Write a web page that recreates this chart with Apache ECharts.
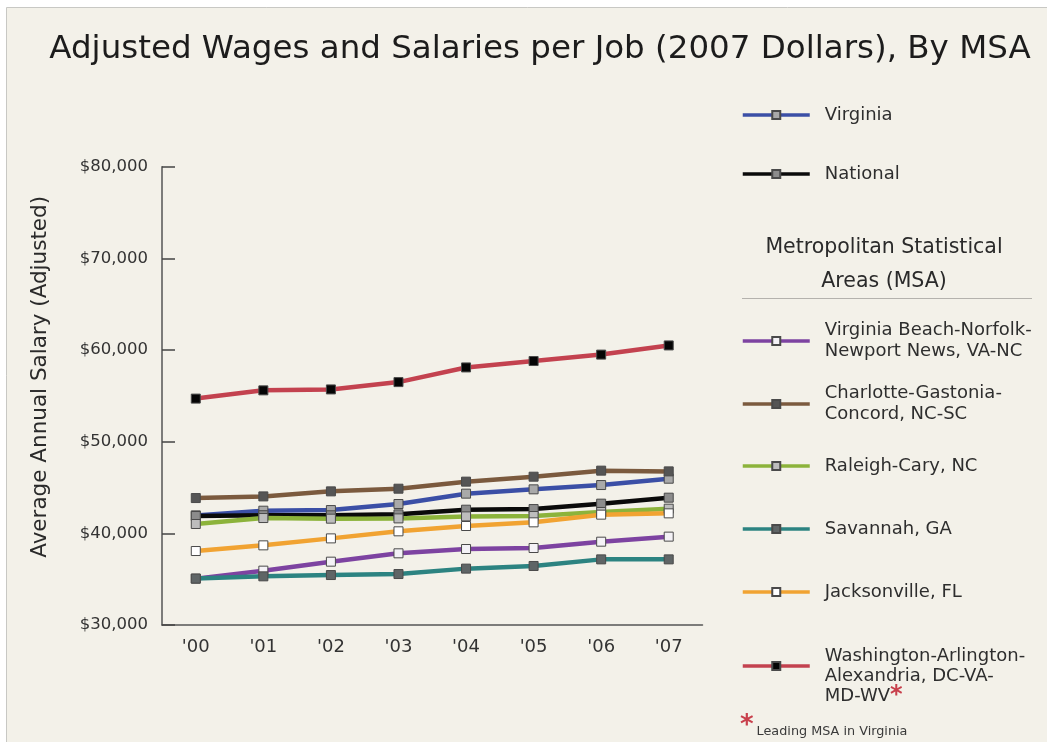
<!DOCTYPE html>
<html>
<head>
<meta charset="utf-8">
<title>Adjusted Wages and Salaries per Job</title>
<script src="https://cdn.jsdelivr.net/npm/echarts@6/dist/echarts.min.js"></script>
<style>
  html, body { margin: 0; padding: 0; background: #ffffff; }
  #chart { width: 1047px; height: 742px; }
</style>
</head>
<body>
<div id="chart"></div>
<script>
// Years on the x axis
const years = ["'00", "'01", "'02", "'03", "'04", "'05", "'06", "'07"];

// Average annual salary per job, 2007 dollars
const virginia      = [41960, 42470, 42540, 43200, 44330, 44800, 45270, 45960];
const national      = [41890, 41980, 41970, 42070, 42580, 42650, 43240, 43890];
const vaBeach       = [35060, 35930, 36910, 37820, 38290, 38400, 39090, 39640];
const charlotte     = [43850, 44030, 44580, 44870, 45640, 46180, 46840, 46760];
const raleigh       = [41020, 41670, 41600, 41630, 41850, 41890, 42330, 42690];
const savannah      = [35060, 35310, 35450, 35560, 36150, 36440, 37160, 37160];
const jacksonville  = [38070, 38690, 39450, 40220, 40800, 41200, 42040, 42180];
const washington    = [54700, 55600, 55700, 56500, 58100, 58800, 59500, 60500];

// Y axis ticks
const yTicks = [30000, 40000, 50000, 60000, 70000, 80000];

const seriesDefs = [
  { name: 'Virginia', data: virginia, color: '#3b4fa6', mark: '#a9a9a9' },
  { name: 'National', data: national, color: '#0a0a0a', mark: '#8c8c8c' },
  { name: 'Virginia Beach-Norfolk-Newport News, VA-NC', data: vaBeach, color: '#7d43a1', mark: '#f4f2f6' },
  { name: 'Charlotte-Gastonia-Concord, NC-SC', data: charlotte, color: '#7b5a3e', mark: '#555555' },
  { name: 'Raleigh-Cary, NC', data: raleigh, color: '#8cb33b', mark: '#bdbdbd' },
  { name: 'Savannah, GA', data: savannah, color: '#2c8381', mark: '#5f6566' },
  { name: 'Jacksonville, FL', data: jacksonville, color: '#f1a332', mark: '#ffffff' },
  { name: 'Washington-Arlington-Alexandria, DC-VA-MD-WV', data: washington, color: '#c3424f', mark: '#050505' }
];

// Wrapped legend captions
const legendText = {
  'Virginia': 'Virginia',
  'National': 'National',
  'Virginia Beach-Norfolk-Newport News, VA-NC': 'Virginia Beach-Norfolk-\nNewport News, VA-NC',
  'Charlotte-Gastonia-Concord, NC-SC': 'Charlotte-Gastonia-\nConcord, NC-SC',
  'Raleigh-Cary, NC': 'Raleigh-Cary, NC',
  'Savannah, GA': 'Savannah, GA',
  'Jacksonville, FL': 'Jacksonville, FL',
  'Washington-Arlington-Alexandria, DC-VA-MD-WV': 'Washington-Arlington-\nAlexandria, DC-VA-\nMD-WV{star|*}'
};
const legendTops = [104.5, 163.5, 320, 383, 455.5, 518.5, 581.5, 626];

const FONT = 'DejaVu Sans';

const chart = echarts.init(document.getElementById('chart'), null, { renderer: 'canvas' });

const legends = seriesDefs.map((s, i) => ({
  data: [s.name],
  orient: 'vertical',
  left: 741,
  top: legendTops[i],
  padding: 0,
  itemWidth: 67,
  itemHeight: 10,
  selectedMode: false,
  formatter: n => legendText[n],
  lineStyle: { width: 3.5 },
  textStyle: {
    fontFamily: FONT,
    fontSize: 18,
    lineHeight: i === 7 ? 20 : 21,
    color: '#2e2e2e',
    padding: i === 7 ? [20, 0, 0, 10] : [0, 0, 0, 10],
    rich: {
      star: { color: '#c8404c', fontSize: 24, fontWeight: 'bold', lineHeight: 20, fontFamily: FONT }
    }
  }
}));

chart.setOption({
  backgroundColor: '#ffffff',
  animation: false,
  title: {
    text: 'Adjusted Wages and Salaries per Job (2007 Dollars), By MSA',
    left: 535,
    textAlign: 'center',
    top: 28,
    textStyle: { fontFamily: FONT, fontSize: 32.5, fontWeight: 'normal', color: '#1c1c1c' }
  },
  graphic: [
    {
      type: 'rect', z: -10, silent: true,
      shape: { x: 6.5, y: 7.5, width: 1045, height: 740 },
      style: { fill: '#f3f1e9', stroke: '#c8c8c4', lineWidth: 1 }
    },
    {
      type: 'text', x: 884, y: 231,
      style: {
        text: 'Metropolitan Statistical\nAreas (MSA)',
        fontFamily: FONT, fontSize: 20.5, lineHeight: 34, fill: '#2a2a2a',
        align: 'center', verticalAlign: 'top'
      }
    },
    {
      type: 'line', silent: true,
      shape: { x1: 742, y1: 298.5, x2: 1032, y2: 298.5 },
      style: { stroke: '#b4b2ad', lineWidth: 1 }
    },
    {
      type: 'text', x: 740, y: 713,
      style: {
        text: '{star|*}{note|Leading MSA in Virginia}',
        rich: {
          star: { fill: '#c8404c', fontSize: 26, fontWeight: 'bold', fontFamily: FONT, verticalAlign: 'top' },
          note: { fill: '#3a3a3a', fontSize: 12.8, fontFamily: FONT, padding: [12, 0, 0, 3] }
        }
      }
    }
  ],
  legend: legends,
  grid: { left: 162, right: 344.5, top: 166.7, bottom: 117, containLabel: false },
  xAxis: {
    type: 'category',
    data: years,
    boundaryGap: true,
    axisLine: { lineStyle: { color: '#555555', width: 1.5 } },
    axisTick: { inside: true, length: 12, lineStyle: { color: '#444', width: 1.5 } },
    axisLabel: { fontFamily: FONT, fontSize: 18, color: '#333333', margin: 13 },
    splitLine: { show: false }
  },
  yAxis: {
    type: 'value',
    min: yTicks[0],
    max: yTicks[yTicks.length - 1],
    interval: 10000,
    name: 'Average Annual Salary (Adjusted)',
    nameLocation: 'middle',
    nameGap: 111,
    nameTextStyle: { fontFamily: FONT, fontSize: 21.5, color: '#2a2a2a', padding: [0, 0, 0, 38] },
    axisLine: { show: true, lineStyle: { color: '#555555', width: 1.5 } },
    axisTick: { show: true, inside: true, length: 13, lineStyle: { color: '#444', width: 1.5 } },
    axisLabel: {
      fontFamily: FONT, fontSize: 16.5, color: '#333333', margin: 14,
      formatter: v => '$' + v.toLocaleString('en-US')
    },
    splitLine: { show: false }
  },
  series: seriesDefs.map(s => ({
    name: s.name,
    type: 'line',
    data: s.data,
    symbol: 'rect',
    symbolSize: 9,
    showSymbol: true,
    lineStyle: { color: s.color, width: 4.5 },
    itemStyle: { color: s.mark, borderColor: '#4a4a4a', borderWidth: 1 },
    emphasis: { disabled: true }
  }))
});
</script>
</body>
</html>
